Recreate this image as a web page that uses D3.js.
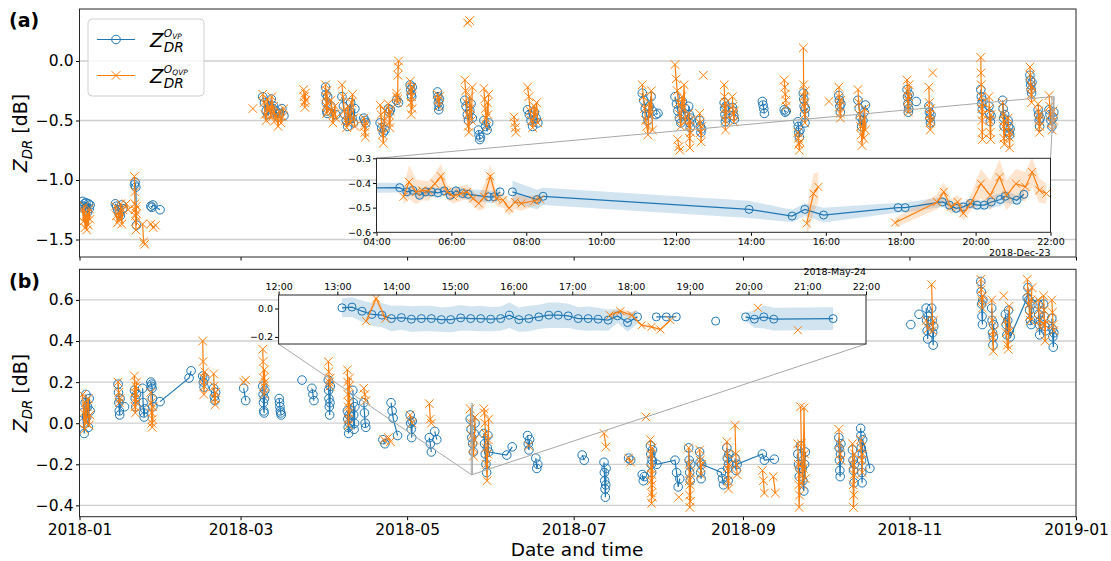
<!DOCTYPE html>
<html lang="en">
<head>
<meta charset="UTF-8">
<title>ZDR offsets 2018</title>
<script src="https://cdn.jsdelivr.net/npm/d3@7"></script>
<style>
    body { margin: 0; background: #fff; }
    svg { font-family: "DejaVu Sans", sans-serif; }
    .frame { fill: none; stroke: #262626; stroke-width: 1; }
    .grid line { stroke: #cfcfcf; stroke-width: 1.3; }
    .tick text { fill: #000; }
    .mark { fill: none; stroke: #a8a8a8; stroke-width: 1; }
</style>
</head>
<body>
<svg id="chart" width="1111" height="561"></svg>
<script>
// clusters: [first day, last day, values, join to next cluster]
const vpA = [
    ["01-02", "01-04", [-1.18, -1.22, -1.2, -1.25, -1.19, -1.23, -1.27, -1.2, -1.24, -1.21]],
    ["01-14", "01-16", [-1.2, -1.22, -1.25, -1.28, -1.3, -1.21, -1.24]],
    ["01-21", "01-21", [-1.04, -1.02, -1.06, -1.38]],
    ["01-27", "01-27", [-1.22, -1.23, -1.21], true],
    ["01-30", "01-30", [-1.25]],
    ["03-09", "03-12", [-0.3, -0.35, -0.42, -0.45, -0.38, -0.32, -0.4]],
    ["03-13", "03-16", [-0.38, -0.42, -0.47, -0.44, -0.4, -0.46]],
    ["04-01", "04-01", [-0.22, -0.28, -0.35, -0.42, -0.44, -0.3]],
    ["04-03", "04-04", [-0.38, -0.45]],
    ["04-07", "04-11", [-0.3, -0.38, -0.45, -0.5, -0.55, -0.42, -0.35, -0.48, -0.52, -0.4]],
    ["04-15", "04-15", [-0.48, -0.5, -0.52]],
    ["04-21", "04-22", [-0.52, -0.56, -0.6, -0.58]],
    ["04-24", "04-24", [-0.4, -0.43, -0.41]],
    ["04-27", "04-27", [-0.33, -0.35]],
    ["05-02", "05-02", [-0.2, -0.24, -0.28, -0.3, -0.22]],
    ["05-12", "05-12", [-0.26, -0.3, -0.35, -0.41, -0.38, -0.32]],
    ["05-22", "05-24", [-0.33, -0.38, -0.45, -0.5, -0.42, -0.36, -0.48]],
    ["05-27", "05-27", [-0.58, -0.62, -0.66, -0.64]],
    ["05-29", "05-30", [-0.5, -0.55, -0.58, -0.52]],
    ["06-14", "06-17", [-0.41, -0.45, -0.5, -0.55, -0.43, -0.48, -0.52]],
    ["07-26", "07-29", [-0.27, -0.33, -0.4, -0.45, -0.5, -0.38, -0.3, -0.42]],
    ["07-31", "07-31", [-0.45, -0.44]],
    ["08-07", "08-10", [-0.3, -0.36, -0.42, -0.48, -0.52, -0.34, -0.45, -0.4]],
    ["08-12", "08-12", [-0.38, -0.45, -0.52, -0.56, -0.48]],
    ["08-16", "08-16", [-0.5, -0.55, -0.6, -0.57]],
    ["08-25", "08-25", [-0.35, -0.4, -0.45, -0.51, -0.38, -0.48]],
    ["08-28", "08-28", [-0.39, -0.42, -0.46, -0.49]],
    ["09-08", "09-08", [-0.34, -0.37, -0.4, -0.44]],
    ["09-16", "09-16", [-0.41, -0.43, -0.42]],
    ["09-21", "09-21", [-0.51, -0.55, -0.6, -0.64, -0.58]],
    ["09-23", "09-23", [-0.27, -0.32, -0.38, -0.45, -0.52, -0.4]],
    ["10-06", "10-06", [-0.29, -0.33, -0.38, -0.43, -0.36]],
    ["10-13", "10-15", [-0.33, -0.4, -0.47, -0.55, -0.5, -0.43, -0.37]],
    ["10-31", "10-31", [-0.24, -0.3, -0.36, -0.43, -0.4, -0.28]],
    ["11-03", "11-03", [-0.34]],
    ["11-08", "11-08", [-0.38, -0.43, -0.48, -0.52, -0.45]],
    ["11-27", "11-27", [-0.24, -0.3, -0.36, -0.41, -0.33]],
    ["11-30", "11-30", [-0.38, -0.44, -0.51, -0.46]],
    ["12-05", "12-05", [-0.33, -0.4, -0.48, -0.55, -0.45]],
    ["12-07", "12-07", [-0.5, -0.55, -0.6, -0.62, -0.57]],
    ["12-15", "12-15", [-0.12, -0.16, -0.2, -0.24, -0.27, -0.18]],
    ["12-18", "12-18", [-0.41, -0.45, -0.5, -0.55, -0.48]],
    ["12-22", "12-23", [-0.41, -0.45, -0.5, -0.55, -0.48, -0.43]]
];
const qvpA = [
    ["01-02", "01-04", [-1.25, -1.35, -1.22, -1.4, -1.3, -1.42, -1.28, -1.38, -1.24, -1.33]],
    ["01-14", "01-16", [-1.22, -1.3, -1.36, -1.27, -1.33, -1.2, -1.37, -1.25]],
    ["01-18", "01-18", [-1.2, -1.25]],
    ["01-21", "01-21", [-0.97, -1.1, -1.2, -1.25, -1.3, -1.35, -1.42, -1.28, -1.22]],
    ["01-24", "01-24", [-1.37, -1.52, -1.54]],
    ["01-27", "01-28", [-1.37, -1.4, -1.38]],
    ["03-05", "03-05", [-0.4]],
    ["03-09", "03-12", [-0.28, -0.35, -0.45, -0.5, -0.32, -0.42, -0.38, -0.48, -0.3, -0.44]],
    ["03-13", "03-16", [-0.38, -0.5, -0.45, -0.55, -0.42, -0.52, -0.47, -0.4]],
    ["03-24", "03-24", [-0.24, -0.3, -0.35, -0.39, -0.27, -0.33]],
    ["04-01", "04-01", [-0.2, -0.3, -0.38, -0.44, -0.25, -0.35, -0.42]],
    ["04-03", "04-04", [-0.33, -0.42, -0.52, -0.45, -0.38, -0.48]],
    ["04-07", "04-11", [-0.2, -0.3, -0.42, -0.5, -0.56, -0.38, -0.45, -0.52, -0.35, -0.28, -0.48, -0.55]],
    ["04-15", "04-15", [-0.48, -0.55, -0.6, -0.64, -0.52]],
    ["04-21", "04-22", [-0.37, -0.45, -0.55, -0.62, -0.69, -0.5, -0.42]],
    ["04-24", "04-24", [-0.36, -0.45, -0.52, -0.56, -0.42]],
    ["04-27", "04-27", [-0.27, -0.3, -0.35, -0.32, -0.12, -0.05, 0.0]],
    ["05-02", "05-02", [-0.17, -0.25, -0.35, -0.45, -0.3, -0.22, -0.4]],
    ["05-12", "05-12", [-0.28, -0.33, -0.38, -0.3]],
    ["05-22", "05-24", [-0.16, -0.25, -0.35, -0.45, -0.55, -0.6, -0.3, -0.4, -0.5, -0.22]],
    ["05-23", "05-23", [0.32, 0.34]],
    ["05-29", "05-30", [-0.23, -0.32, -0.4, -0.48, -0.55, -0.35, -0.45, -0.28]],
    ["06-09", "06-09", [-0.47, -0.52, -0.56, -0.6]],
    ["06-14", "06-17", [-0.22, -0.3, -0.42, -0.5, -0.56, -0.38, -0.46, -0.35, -0.52]],
    ["07-26", "07-29", [-0.2, -0.3, -0.4, -0.5, -0.55, -0.62, -0.35, -0.45, -0.25, -0.58]],
    ["08-07", "08-10", [-0.03, -0.15, -0.25, -0.35, -0.45, -0.55, -0.3, -0.4, -0.2, -0.5]],
    ["08-08", "08-08", [-0.66, -0.72, -0.75]],
    ["08-12", "08-12", [-0.44, -0.55, -0.65, -0.73, -0.5, -0.6]],
    ["08-16", "08-16", [-0.44, -0.52, -0.6, -0.68, -0.55]],
    ["08-17", "08-17", [-0.12]],
    ["08-25", "08-25", [-0.2, -0.3, -0.4, -0.5, -0.58, -0.35, -0.45]],
    ["08-28", "08-28", [-0.3, -0.38, -0.45, -0.51, -0.42]],
    ["09-16", "09-16", [-0.16, -0.22, -0.28, -0.33, -0.38]],
    ["09-21", "09-21", [-0.6, -0.65, -0.7, -0.75, -0.68]],
    ["09-23", "09-23", [0.11, -0.2, -0.3, -0.38, -0.45, -0.52, -0.35, -0.25]],
    ["10-02", "10-02", [-0.34]],
    ["10-06", "10-06", [-0.22, -0.3, -0.38, -0.44, -0.48, -0.33]],
    ["10-13", "10-15", [-0.24, -0.35, -0.45, -0.55, -0.62, -0.71, -0.5, -0.65, -0.4, -0.58]],
    ["10-31", "10-31", [-0.16, -0.25, -0.33, -0.4, -0.43, -0.3, -0.2]],
    ["11-08", "11-08", [-0.22, -0.35, -0.45, -0.52, -0.58, -0.4, -0.5]],
    ["11-09", "11-09", [-0.1]],
    ["11-27", "11-27", [0.03, -0.1, -0.2, -0.3, -0.4, -0.5, -0.6, -0.66, -0.35, -0.45]],
    ["11-30", "11-30", [-0.3, -0.4, -0.5, -0.6, -0.66, -0.45]],
    ["12-05", "12-05", [-0.35, -0.45, -0.55, -0.65, -0.7, -0.5]],
    ["12-07", "12-07", [-0.48, -0.56, -0.64, -0.73, -0.6]],
    ["12-15", "12-15", [-0.05, -0.12, -0.2, -0.28, -0.35, -0.22]],
    ["12-18", "12-18", [-0.36, -0.42, -0.5, -0.6, -0.55, -0.45]],
    ["12-22", "12-23", [-0.29, -0.38, -0.45, -0.52, -0.58, -0.42, -0.5]]
];
const vpB = [
    ["01-02", "01-04", [0.05, 0.0, -0.05, 0.1, 0.14, 0.03, 0.08, -0.02, 0.12, 0.06]],
    ["01-15", "01-15", [0.19, 0.15, 0.1, 0.06, 0.04, 0.12]],
    ["01-17", "01-17", [0.08]],
    ["01-21", "01-21", [0.16, 0.12, 0.08, 0.14]],
    ["01-24", "01-24", [0.17, 0.1, 0.05, 0.03, 0.07]],
    ["01-27", "01-27", [0.2, 0.18, 0.19, 0.17, 0.12, 0.08]],
    ["01-30", "01-30", [0.105], true],
    ["02-10", "02-10", [0.22, 0.255]],
    ["02-15", "02-15", [0.23, 0.2, 0.175, 0.22]],
    ["02-19", "02-19", [0.17, 0.13, 0.11, 0.15]],
    ["03-02", "03-02", [0.17, 0.11]],
    ["03-09", "03-09", [0.18, 0.14, 0.1, 0.06, 0.05, 0.12, 0.16]],
    ["03-15", "03-15", [0.12, 0.1, 0.08, 0.06, 0.05, 0.04]],
    ["03-23", "03-23", [0.21]],
    ["03-27", "03-27", [0.17, 0.14, 0.11]],
    ["04-02", "04-02", [0.21, 0.16, 0.12, 0.08, 0.04, 0.1, 0.18]],
    ["04-09", "04-09", [0.06, 0.02, -0.02, -0.05, 0.04, 0.0]],
    ["04-11", "04-11", [0.16, 0.1, 0.04, -0.03, 0.0, 0.08]],
    ["04-15", "04-15", [0.1, 0.05, 0.0, -0.02]],
    ["04-22", "04-22", [-0.08, -0.1]],
    ["04-25", "04-25", [0.1, 0.06, 0.025], true],
    ["04-27", "04-27", [-0.06]],
    ["05-02", "05-02", [0.04, 0.0, -0.03, -0.07, 0.01]],
    ["05-09", "05-09", [-0.07, -0.1, -0.14]],
    ["05-11", "05-11", [-0.04, -0.08]],
    ["05-24", "05-25", [0.02, -0.03, -0.07, -0.1, -0.14, -0.05, 0.0]],
    ["05-29", "05-30", [-0.05, -0.1, -0.15, -0.2, -0.24, -0.12, -0.06, -0.14], true],
    ["06-06", "06-06", [-0.155], true],
    ["06-08", "06-08", [-0.115]],
    ["06-14", "06-14", [-0.06, -0.1, -0.13, -0.08]],
    ["06-17", "06-17", [-0.17, -0.22, -0.2]],
    ["07-04", "07-04", [-0.155, -0.18]],
    ["07-12", "07-12", [-0.19, -0.24, -0.28, -0.32, -0.36, -0.3, -0.22]],
    ["07-21", "07-21", [-0.17, -0.18]],
    ["07-26", "07-26", [-0.25, -0.28, -0.26]],
    ["07-29", "07-29", [-0.11, -0.15, -0.2, -0.24, -0.18, -0.13], true],
    ["07-31", "07-31", [-0.2], true],
    ["08-07", "08-08", [-0.18, -0.24, -0.31, -0.27]],
    ["08-12", "08-12", [-0.12, -0.18, -0.24, -0.28, -0.2]],
    ["08-16", "08-16", [-0.14, -0.19, -0.24, -0.27, -0.2], true],
    ["08-24", "08-24", [-0.24, -0.27, -0.3]],
    ["08-26", "08-26", [-0.12, -0.17, -0.22, -0.28, -0.2, -0.15]],
    ["08-29", "08-29", [-0.17, -0.23, -0.2], true],
    ["09-08", "09-08", [-0.15, -0.18], true],
    ["09-12", "09-12", [-0.175]],
    ["09-21", "09-21", [-0.15, -0.2, -0.26, -0.22]],
    ["09-22", "09-23", [-0.11, -0.16, -0.22, -0.28, -0.33, -0.2, -0.14]],
    ["10-06", "10-06", [-0.07, -0.12, -0.18, -0.23, -0.26, -0.15, -0.1]],
    ["10-11", "10-11", [-0.13, -0.18, -0.23, -0.29, -0.2]],
    ["10-14", "10-14", [-0.025, -0.06, -0.12, -0.18, -0.24, -0.29, -0.15, -0.08], true],
    ["10-17", "10-17", [-0.22]],
    ["11-01", "11-01", [0.48]],
    ["11-04", "11-04", [0.53]],
    ["11-07", "11-07", [0.56, 0.5, 0.45, 0.41, 0.52]],
    ["11-09", "11-09", [0.56, 0.5, 0.44, 0.38, 0.47]],
    ["11-27", "11-27", [0.69, 0.64, 0.58, 0.52, 0.48, 0.6]],
    ["12-01", "12-01", [0.56, 0.5, 0.44, 0.38, 0.42, 0.48]],
    ["12-06", "12-07", [0.53, 0.48, 0.43, 0.5, 0.55, 0.45, 0.42], true],
    ["12-14", "12-15", [0.61, 0.66, 0.6, 0.55, 0.5, 0.48, 0.58]],
    ["12-18", "12-18", [0.58, 0.53, 0.48, 0.43, 0.5]],
    ["12-20", "12-20", [0.58, 0.52, 0.47, 0.45]],
    ["12-23", "12-23", [0.51, 0.46, 0.42, 0.37, 0.44]]
];
const qvpB = [
    ["01-02", "01-04", [0.14, 0.05, -0.03, 0.1, 0.0, 0.08, 0.12, -0.01, 0.04]],
    ["01-15", "01-15", [0.2, 0.15, 0.1, 0.12]],
    ["01-21", "01-21", [0.23, 0.15, 0.08, 0.05, 0.12, 0.18, 0.1, 0.2]],
    ["01-27", "01-27", [0.15, 0.1, 0.05, 0.0, -0.02, 0.02, 0.08]],
    ["02-15", "02-15", [0.4, 0.3, 0.22, 0.14, 0.18, 0.25]],
    ["02-19", "02-19", [0.24, 0.18, 0.12, 0.09, 0.15]],
    ["03-02", "03-02", [0.2, 0.21]],
    ["03-09", "03-09", [0.36, 0.3, 0.22, 0.18, 0.14, 0.26, 0.2]],
    ["04-02", "04-02", [0.3, 0.25, 0.2, 0.18, 0.22]],
    ["04-09", "04-09", [0.26, 0.2, 0.14, 0.08, 0.02, -0.01, 0.1, 0.18, 0.05, 0.22]],
    ["04-15", "04-15", [0.17, 0.14, 0.11]],
    ["04-22", "04-22", [-0.08]],
    ["04-24", "04-24", [-0.07, -0.09]],
    ["05-02", "05-02", [0.04, 0.0]],
    ["05-09", "05-09", [0.095, 0.02, 0.0]],
    ["05-24", "05-25", [0.07, 0.0, -0.06, -0.12, -0.16, -0.08, 0.03]],
    ["05-29", "05-30", [0.07, 0.05, 0.0, -0.05, -0.12, -0.2, -0.28, -0.15, -0.08, 0.02]],
    ["06-14", "06-14", [-0.11]],
    ["07-12", "07-12", [-0.05, -0.115]],
    ["07-21", "07-21", [-0.17, -0.19]],
    ["07-27", "07-27", [0.03]],
    ["07-29", "07-29", [-0.08, -0.15, -0.22, -0.28, -0.34, -0.39, -0.25, -0.3, -0.12, -0.36]],
    ["08-08", "08-08", [-0.36]],
    ["08-12", "08-12", [-0.12, -0.2, -0.28, -0.35, -0.41, -0.3, -0.38, -0.24]],
    ["08-16", "08-16", [-0.13, -0.18, -0.25, -0.2]],
    ["08-26", "08-26", [-0.09, -0.15, -0.22, -0.28, -0.32, -0.2]],
    ["08-29", "08-29", [-0.01, -0.15, -0.2, -0.25]],
    ["09-08", "09-08", [-0.23, -0.28, -0.34]],
    ["09-12", "09-12", [-0.26, -0.34]],
    ["09-21", "09-21", [-0.1, -0.2, -0.3, -0.41, -0.35, -0.25]],
    ["09-22", "09-23", [0.08, -0.1, -0.2, -0.3, -0.22, 0.075, -0.15, -0.27]],
    ["10-06", "10-06", [-0.03, -0.1, -0.15, -0.18]],
    ["10-11", "10-11", [-0.1, -0.2, -0.3, -0.41, -0.35, -0.25, -0.15]],
    ["10-14", "10-14", [-0.08, -0.12, -0.18, -0.24, -0.15]],
    ["11-07", "11-07", [0.5, 0.46]],
    ["11-09", "11-09", [0.675, 0.45, 0.5]],
    ["11-27", "11-27", [0.7, 0.65, 0.6, 0.56, 0.62]],
    ["12-01", "12-01", [0.6, 0.5, 0.42, 0.35, 0.45]],
    ["12-05", "12-05", [0.62]],
    ["12-06", "12-07", [0.5, 0.44, 0.38, 0.36, 0.57, 0.45]],
    ["12-14", "12-15", [0.7, 0.64, 0.58, 0.52, 0.5, 0.6, 0.66]],
    ["12-18", "12-18", [0.6, 0.55, 0.5, 0.47]],
    ["12-20", "12-20", [0.62, 0.55, 0.48, 0.4, 0.5]],
    ["12-23", "12-23", [0.6, 0.54, 0.48, 0.45]]
];

// inset (a): 2018-12-23, hours of day; null breaks the line
const insAvpHour = [3.5, 4.62, 4.81, 4.97, 5.15, 5.31, 5.47, 5.64, 5.81, 5.97, 6.12, 6.3, 6.45, 6.99, 7.14, 7.3, null, 7.63, 8.29, 8.45, 13.95, 15.1, 15.44, 15.94, 17.93, 18.12, 19.11, 19.3, 19.48, 19.67, 19.86, 20.04, 20.23, 20.42, 20.66, 20.79, 21.1, 21.29];
const insAvpVal  = [-0.42, -0.419, -0.436, -0.43, -0.45, -0.436, -0.436, -0.44, -0.432, -0.45, -0.432, -0.443, -0.446, -0.456, -0.456, -0.436, null, -0.436, -0.467, -0.454, -0.507, -0.534, -0.507, -0.53, -0.5, -0.5, -0.477, -0.49, -0.503, -0.497, -0.483, -0.49, -0.49, -0.477, -0.467, -0.454, -0.47, -0.446];
const insAvpStd  = [0.02, 0.02, 0.02, 0.02, 0.02, 0.02, 0.02, 0.02, 0.02, 0.02, 0.02, 0.022, 0.022, 0.025, 0.025, 0.025, null, 0.045, 0.04, 0.035, 0.035, 0.025, 0.025, 0.03, 0.02, 0.02, 0.02, 0.02, 0.02, 0.02, 0.02, 0.02, 0.02, 0.025, 0.025, 0.025, 0.02, 0.02];
const insAqvpHour = [4.72, 4.87, 5.06, 5.22, 5.39, 5.56, 5.72, 5.89, 6.05, 6.24, 6.42, 6.58, 6.73, 6.88, 7.04, 7.2, 7.38, 7.54, 7.7, 7.87, 8.22, 8.37, null, 15.49, 15.67, 15.8, null, 17.85, 18.97, 19.15, 19.34, 19.52, 19.67, 19.87, 20.14, 20.39, 20.64, 20.83, 21.08, 21.33, 21.51, 21.7, 21.89];
const insAqvpVal  = [-0.456, -0.396, -0.436, -0.43, -0.432, -0.403, -0.373, -0.436, -0.454, -0.443, -0.436, -0.463, -0.483, -0.456, -0.373, -0.463, -0.47, -0.503, -0.477, -0.483, -0.472, -0.467, null, -0.564, -0.443, -0.416, null, -0.561, -0.477, -0.436, -0.497, -0.477, -0.523, -0.483, -0.403, -0.45, -0.376, -0.45, -0.403, -0.416, -0.356, -0.43, -0.443];
const insAqvpStd  = [0.03, 0.07, 0.05, 0.04, 0.04, 0.04, 0.05, 0.03, 0.03, 0.03, 0.03, 0.03, 0.03, 0.05, 0.05, 0.03, 0.03, 0.03, 0.03, 0.03, 0.02, 0.02, null, 0.06, 0.08, 0.06, null, 0.02, 0.03, 0.04, 0.03, 0.03, 0.03, 0.03, 0.06, 0.06, 0.07, 0.06, 0.06, 0.06, 0.06, 0.05, 0.04];

// inset (b): 2018-05-24
const insBvpHour = [13.08, 13.25, 13.42, 13.59, 13.76, 13.92, 14.09, 14.26, 14.43, 14.6, 14.77, 14.93, 15.1, 15.27, 15.44, 15.61, 15.78, 15.93, 16.09, 16.26, 16.43, 16.6, 16.76, 16.93, 17.1, 17.27, 17.44, 17.61, 17.77, 17.94, 18.11, null, 18.43, 18.6, 18.77, null, 19.44, null, 19.95, 20.1, 20.26, 20.43, 21.44];
const insBvpVal  = [0.005, 0.01, -0.019, -0.042, -0.047, -0.071, -0.064, -0.075, -0.071, -0.071, -0.078, -0.078, -0.066, -0.071, -0.071, -0.075, -0.071, -0.047, -0.078, -0.071, -0.059, -0.047, -0.047, -0.052, -0.071, -0.071, -0.075, -0.082, -0.052, -0.099, -0.059, null, -0.059, -0.059, -0.059, null, -0.089, null, -0.059, -0.075, -0.059, -0.075, -0.071];
const insBvpStd  = [0.065, 0.07, 0.075, 0.08, 0.085, 0.09, 0.085, 0.09, 0.09, 0.09, 0.085, 0.09, 0.09, 0.085, 0.09, 0.085, 0.085, 0.09, 0.085, 0.09, 0.085, 0.09, 0.09, 0.085, 0.08, 0.085, 0.08, 0.075, 0.05, 0.065, 0.05, null, null, null, null, null, null, null, 0.03, 0.06, 0.08, 0.08, 0.08];
const insBqvpHour = [13.49, 13.66, 13.82, null, 17.64, 17.82, 18.01, 18.18, 18.35, 18.5, 18.67, null, 20.16, null, 20.84];
const insBqvpVal  = [-0.089, 0.07, -0.07, null, -0.047, -0.019, -0.047, -0.118, -0.129, -0.148, -0.082, null, 0.005, null, -0.153];
const insBqvpStd  = [0.02, 0.03, 0.02, null, 0.02, 0.02, 0.02, 0.01, 0.01, 0.01, 0.01, null, null, null, null];

const blue = "#1f77b4", orange = "#ff7f0e";
const svg = d3.select("#chart");
const parseDay = d3.timeParse("%Y-%m-%d");

// spread each cluster's values over its day span, split into connected runs
function expand(clusters) {
    const runs = [];
    let cur = [];
    clusters.forEach(([s, e, vals, join]) => {
        const t0 = parseDay("2018-" + s).getTime() + 3 * 3600e3;
        const t1 = parseDay("2018-" + e).getTime() + 21 * 3600e3;
        vals.forEach((v, i) => {
            const t = vals.length > 1 ? t0 + (t1 - t0) * i / (vals.length - 1) : (t0 + t1) / 2;
            cur.push({t: new Date(t), v: v});
        });
        if (!join) { runs.push(cur); cur = []; }
    });
    if (cur.length) runs.push(cur);
    return runs;
}

function hourSeries(day, hours, vals, stds) {
    const base = parseDay(day).getTime();
    return hours.map((h, i) => ({
        t: h == null ? null : new Date(base + h * 3600e3),
        v: vals[i], s: stds[i]
    }));
}

const x = d3.scaleTime().domain([new Date(2018, 0, 1), new Date(2019, 0, 1)]).range([79.5, 1076]);
const ya = d3.scaleLinear().domain([-1.647, 0.437]).range([257, 9]);
const yb = d3.scaleLinear().domain([-0.455, 0.749]).range([516.7, 269.3]);

const defs = svg.append("defs");
function clip(id, x0, y0, w, h) {
    defs.append("clipPath").attr("id", id).append("rect").attr("x", x0).attr("y", y0).attr("width", w).attr("height", h);
    return `url(#${id})`;
}

function marks(g, pts, xs, ys, color, kind, r) {
    g.append("path").datum(pts)
        .attr("fill", "none").attr("stroke", color).attr("stroke-width", 1.2)
        .attr("d", d3.line().defined(d => d.t != null && d.v != null).x(d => xs(d.t)).y(d => ys(d.v)));
    const p = pts.filter(d => d.t != null && d.v != null);
    if (kind === "o") {
        g.selectAll(null).data(p).enter().append("circle")
            .attr("cx", d => xs(d.t)).attr("cy", d => ys(d.v)).attr("r", r)
            .attr("fill", "none").attr("stroke", color).attr("stroke-width", 1);
    } else if (kind === "x") {
        g.selectAll(null).data(p).enter().append("path")
            .attr("transform", d => `translate(${xs(d.t)},${ys(d.v)})`)
            .attr("d", `M${-r},${-r}L${r},${r}M${-r},${r}L${r},${-r}`)
            .attr("stroke", color).attr("stroke-width", 1).attr("fill", "none");
    }
}

function band(g, pts, xs, ys, color) {
    g.append("path").datum(pts)
        .attr("fill", color).attr("fill-opacity", 0.2).attr("stroke", "none")
        .attr("d", d3.area().defined(d => d.t != null && d.s != null)
            .x(d => xs(d.t)).y0(d => ys(d.v - d.s)).y1(d => ys(d.v + d.s)));
}

function panel(y, ticks, vp, qvp, id, showDates) {
    const [y0, y1] = y.range();
    const g = svg.append("g");
    g.append("g").attr("class", "grid").selectAll("line").data(ticks).enter().append("line")
        .attr("x1", x.range()[0]).attr("x2", x.range()[1]).attr("y1", d => y(d)).attr("y2", d => y(d));
    const data = g.append("g").attr("clip-path", clip(id, x.range()[0], y1, x.range()[1] - x.range()[0], y0 - y1));
    expand(vp).forEach(run => marks(data, run, x, y, blue, "o", 4.3));
    expand(qvp).forEach(run => marks(data, run, x, y, orange, "x", 4.3));

    g.append("g").attr("transform", `translate(${x.range()[0]},0)`)
        .call(d3.axisLeft(y).tickValues(ticks).tickFormat(d3.format(".1f")).tickSize(3.5).tickPadding(2.5))
        .call(a => a.select(".domain").remove())
        .call(a => a.selectAll("text").attr("font-size", 15.5).attr("font-family", "DejaVu Sans"));
    g.append("g").attr("transform", `translate(0,${y0})`)
        .call(d3.axisBottom(x).ticks(d3.timeMonth.every(2)).tickFormat(showDates ? d3.timeFormat("%Y-%m") : "").tickSize(3.5).tickPadding(4))
        .call(a => a.select(".domain").remove())
        .call(a => a.selectAll("text").attr("font-size", 15.5).attr("font-family", "DejaVu Sans"));
    g.append("rect").attr("class", "frame")
        .attr("x", x.range()[0]).attr("y", y1).attr("width", x.range()[1] - x.range()[0]).attr("height", y0 - y1);
    return g;
}

const gA = panel(ya, [-1.5, -1.0, -0.5, 0.0], vpA, qvpA, "clipA", false);
const gB = panel(yb, [-0.4, -0.2, 0.0, 0.2, 0.4, 0.6], vpB, qvpB, "clipB", true);

// zoom indicator + inset
function inset(host, hy, xi, yi, vpPts, qvpPts, corners, axisTop, yTicks, offset, id) {
    const [t0, t1] = xi.domain();
    const rx0 = x(t0), rx1 = x(t1), ry0 = hy(yi.domain()[1]), ry1 = hy(yi.domain()[0]);
    host.append("rect").attr("class", "mark")
        .attr("x", rx0).attr("y", ry0).attr("width", Math.max(rx1 - rx0, 1)).attr("height", ry1 - ry0);
    const [ix0, ix1] = xi.range(), [iy0, iy1] = yi.range();
    corners.forEach(c => {
        const px = c[0] ? rx1 : rx0, py = c[1] ? ry1 : ry0;
        const qx = c[0] ? ix1 : ix0, qy = c[1] ? iy0 : iy1;
        host.append("line").attr("class", "mark").attr("x1", px).attr("y1", py).attr("x2", qx).attr("y2", qy);
    });
    const g = host.append("g");
    g.append("rect").attr("x", ix0).attr("y", iy1).attr("width", ix1 - ix0).attr("height", iy0 - iy1).attr("fill", "#fff");
    const d = g.append("g").attr("clip-path", clip(id, ix0, iy1, ix1 - ix0, iy0 - iy1));
    band(d, vpPts, xi, yi, blue);
    band(d, qvpPts, xi, yi, orange);
    marks(d, vpPts, xi, yi, blue, "o", 4);
    marks(d, qvpPts, xi, yi, orange, "x", 4);

    const xa = axisTop ? d3.axisTop(xi) : d3.axisBottom(xi);
    g.append("g").attr("transform", `translate(0,${axisTop ? iy1 : iy0})`)
        .call(xa.ticks(d3.timeHour.every(axisTop ? 1 : 2)).tickFormat(d3.timeFormat("%H:%M")).tickSize(3.5).tickPadding(2))
        .call(a => a.select(".domain").remove())
        .call(a => a.selectAll("text").attr("font-size", 9.5).attr("font-family", "DejaVu Sans"));
    g.append("g").attr("transform", `translate(${ix0},0)`)
        .call(d3.axisLeft(yi).tickValues(yTicks).tickFormat(d3.format(".1f")).tickSize(3.5).tickPadding(2))
        .call(a => a.select(".domain").remove())
        .call(a => a.selectAll("text").attr("font-size", 9.5).attr("font-family", "DejaVu Sans"));
    g.append("rect").attr("class", "frame").attr("x", ix0).attr("y", iy1).attr("width", ix1 - ix0).attr("height", iy0 - iy1);
    g.append("text").attr("x", ix1).attr("y", axisTop ? iy1 - 20 : iy0 + 24)
        .attr("text-anchor", "end").attr("font-size", 9.5).text(offset);
}

const dayA = "2018-12-23", dayB = "2018-05-24";
const xiA = d3.scaleTime().domain([new Date(2018, 11, 23, 4), new Date(2018, 11, 23, 22)]).range([376.5, 1050.5]);
const yiA = d3.scaleLinear().domain([-0.6, -0.3]).range([232.3, 158.3]);
inset(gA, ya, xiA, yiA,
    hourSeries(dayA, insAvpHour, insAvpVal, insAvpStd),
    hourSeries(dayA, insAqvpHour, insAqvpVal, insAqvpStd),
    [[0, 0], [1, 0]], false, [-0.6, -0.5, -0.4, -0.3], "2018-Dec-23", "clipIA");

const xiB = d3.scaleTime().domain([new Date(2018, 4, 24, 12), new Date(2018, 4, 24, 22)]).range([278.6, 866]);
const yiB = d3.scaleLinear().domain([-0.25, 0.095]).range([344, 295]);
inset(gB, yb, xiB, yiB,
    hourSeries(dayB, insBvpHour, insBvpVal, insBvpStd),
    hourSeries(dayB, insBqvpHour, insBqvpVal, insBqvpStd),
    [[0, 1], [1, 1]], true, [-0.2, 0.0], "2018-May-24", "clipIB");

// Z_DR with stacked superscript (O with its own subscript) over the DR subscript
function zdr(g, x0, yb0, size, sup, supSub) {
    const t = g.append("text").attr("x", x0).attr("y", yb0).attr("font-size", size).attr("font-style", "italic").text("Z");
    const xs = x0 + t.node().getComputedTextLength() + 0.5;
    g.append("text").attr("x", xs).attr("y", yb0 + size * 0.3).attr("font-size", size * 0.7).attr("font-style", "italic").text("DR");
    const o = g.append("text").attr("x", xs).attr("y", yb0 - size * 0.47).attr("font-size", size * 0.55).attr("font-style", "italic").text(sup);
    g.append("text").attr("x", xs + o.node().getComputedTextLength())
        .attr("y", yb0 - size * 0.38).attr("font-size", size * 0.38).attr("font-style", "italic").text(supSub);
}

// legend
const lg = svg.append("g");
lg.append("rect").attr("x", 88).attr("y", 19).attr("width", 116).attr("height", 77).attr("rx", 4)
    .attr("fill", "#fff").attr("fill-opacity", 0.85).attr("stroke", "#d0d0d0");
[[39.5, blue, "o", "VP"], [75.5, orange, "x", "QVP"]].forEach(([ly, c, k, sub]) => {
    marks(lg, [{t: 97, v: ly}, {t: 135, v: ly}], v => v, v => v, c, "none", 0);
    marks(lg, [{t: 116, v: ly}], v => v, v => v, c, k, 4.3);
    zdr(lg, 150, ly + 7, 19.5, "O", sub);
});

// y labels
[133, 393].forEach(cy => {
    const t = svg.append("text").attr("transform", `translate(27,${cy}) rotate(-90)`)
        .attr("text-anchor", "middle").attr("font-size", 19);
    t.append("tspan").attr("font-style", "italic").text("Z");
    t.append("tspan").attr("font-style", "italic").attr("font-size", 13.3).attr("dy", 4.5).text("DR");
    t.append("tspan").attr("dy", -4.5).text(" [dB]");
});

svg.append("text").attr("x", 577).attr("y", 556).attr("text-anchor", "middle").attr("font-size", 18.5).text("Date and time");
svg.append("text").attr("x", 9).attr("y", 27).attr("font-size", 19).attr("font-weight", "bold").text("(a)");
svg.append("text").attr("x", 9).attr("y", 288).attr("font-size", 19).attr("font-weight", "bold").text("(b)");
</script>
</body>
</html>
